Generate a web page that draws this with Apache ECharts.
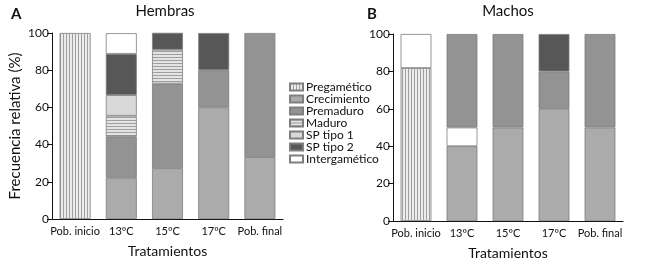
<!DOCTYPE html>
<html>
<head>
<meta charset="utf-8">
<script src="https://cdn.jsdelivr.net/npm/echarts@6/dist/echarts.min.js"></script>
<style>
html, body { margin: 0; padding: 0; background: #fff; }
#chart { width: 646px; height: 268px; }
</style>
</head>
<body>
<div id="chart"></div>
<script>
// categorias y valores (%)
const categories = ['Pob. inicio', '13ºC', '15ºC', '17ºC', 'Pob. final']
const legendNames = ['Pregamético', 'Crecimiento', 'Premaduro', 'Maduro', 'SP tipo 1', 'SP tipo 2', 'Intergamético']

// Hembras
const hPregametico = [100, 0, 0, 0, 0]
const hCrecimiento = [0, 22.2, 27.3, 60, 33.3]
const hPremaduro = [0, 22.2, 45.5, 20, 66.7]
const hMaduro = [0, 11.1, 18.2, 0, 0]
const hSpTipo1 = [0, 11.1, 0, 0, 0]
const hSpTipo2 = [0, 22.2, 9.1, 20, 0]
const hIntergametico = [0, 11.1, 0, 0, 0]

// Machos
const mPregametico = [81.8, 0, 0, 0, 0]
const mCrecimiento = [0, 40, 50, 60, 50]
const mIntergametico = [18.2, 10, 0, 0, 0]
const mPremaduro = [0, 50, 50, 20, 50]
const mSpTipo2 = [0, 0, 0, 20, 0]

function stripes(vertical, bg, line) {
    let c = document.createElement('canvas')
    c.width = 3
    c.height = 3
    let ctx = c.getContext('2d')
    ctx.fillStyle = bg
    ctx.fillRect(0, 0, 3, 3)
    ctx.fillStyle = line
    if (vertical) ctx.fillRect(0, 0, 1, 3)
    else ctx.fillRect(0, 0, 3, 1)
    return { image: c, repeat: 'repeat' }
}

const colors = {
    'Pregamético': stripes(true, '#ececec', '#a0a0a0'),
    'Crecimiento': '#ababab',
    'Premaduro': '#939393',
    'Maduro': stripes(false, '#e4e4e4', '#a0a0a0'),
    'SP tipo 1': '#d9d9d9',
    'SP tipo 2': '#575757',
    'Intergamético': '#ffffff'
}

const font = 'Lato, "Open Sans", sans-serif'

function bar(name, values, idx) {
    return {
        name: name,
        type: 'bar',
        stack: 'g' + idx,
        xAxisIndex: idx,
        yAxisIndex: idx,
        barWidth: '67%',
        data: values.map(v => v || null),
        itemStyle: {
            color: colors[name],
            borderColor: '#7e7e7e',
            borderWidth: 0.8
        }
    }
}

function xAxis(idx) {
    return {
        type: 'category',
        gridIndex: idx,
        data: categories,
        name: 'Tratamientos',
        nameLocation: 'middle',
        nameGap: 25,
        nameTextStyle: { fontFamily: font, fontSize: 14, color: '#111' },
        axisLine: { lineStyle: { color: '#111', width: 1 } },
        axisTick: { alignWithLabel: true, length: 4, lineStyle: { color: '#111' } },
        axisLabel: { fontFamily: font, fontSize: 11, color: '#111', margin: 7, interval: 0 }
    }
}

function yAxis(idx, name) {
    return {
        type: 'value',
        gridIndex: idx,
        min: 0,
        max: 100,
        interval: 20,
        name: name,
        nameLocation: 'middle',
        nameGap: 29,
        nameTextStyle: { fontFamily: font, fontSize: 15, color: '#111' },
        axisLine: { show: true, lineStyle: { color: '#111', width: 1 } },
        axisTick: { show: true, length: 5, lineStyle: { color: '#111' } },
        splitLine: { show: false },
        axisLabel: { fontFamily: font, fontSize: 12, color: '#111', margin: 3 }
    }
}

let option = {
    animation: false,
    backgroundColor: '#fff',
    title: [
        { text: 'A', left: 6, top: 2, textStyle: { fontFamily: font, fontSize: 15, fontWeight: 'bold', color: '#111' } },
        { text: 'Hembras', left: 160, top: -1, textAlign: 'center', textStyle: { fontFamily: font, fontSize: 15, fontWeight: 'normal', color: '#111' } },
        { text: 'B', left: 362, top: 2, textStyle: { fontFamily: font, fontSize: 15, fontWeight: 'bold', color: '#111' } },
        { text: 'Machos', left: 503, top: -1, textAlign: 'center', textStyle: { fontFamily: font, fontSize: 15, fontWeight: 'normal', color: '#111' } }
    ],
    legend: {
        data: legendNames,
        orient: 'vertical',
        left: 284,
        top: 76,
        icon: 'rect',
        itemWidth: 13,
        itemHeight: 7,
        itemGap: 0,
        selectedMode: false,
        textStyle: { fontFamily: font, fontSize: 12, color: '#111', lineHeight: 12, padding: [0, 0, 0, -2] }
    },
    grid: [
        { left: 52, top: 33, width: 231, height: 186 },
        { left: 393, top: 34, width: 230, height: 187 }
    ],
    xAxis: [xAxis(0), xAxis(1)],
    yAxis: [yAxis(0, 'Frecuencia relativa (%)'), yAxis(1, '')],
    series: [
        bar('Pregamético', hPregametico, 0),
        bar('Crecimiento', hCrecimiento, 0),
        bar('Premaduro', hPremaduro, 0),
        bar('Maduro', hMaduro, 0),
        bar('SP tipo 1', hSpTipo1, 0),
        bar('SP tipo 2', hSpTipo2, 0),
        bar('Intergamético', hIntergametico, 0),
        bar('Pregamético', mPregametico, 1),
        bar('Crecimiento', mCrecimiento, 1),
        bar('Intergamético', mIntergametico, 1),
        bar('Premaduro', mPremaduro, 1),
        bar('SP tipo 2', mSpTipo2, 1)
    ]
}

var myChart = echarts.init(document.getElementById('chart'))
myChart.setOption(option)
</script>
</body>
</html>
